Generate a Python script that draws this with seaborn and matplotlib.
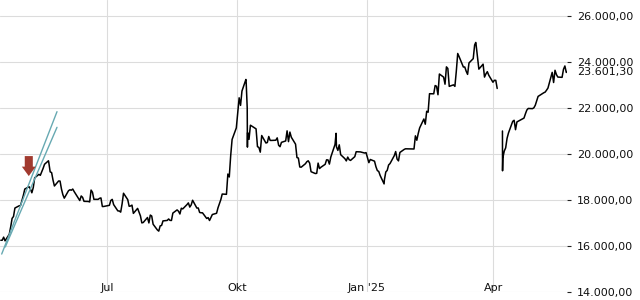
import numpy as np
import pandas as pd
import matplotlib
matplotlib.use("Agg")
import matplotlib.pyplot as plt
import matplotlib.dates as mdates
from matplotlib.ticker import FixedLocator, FixedFormatter, FuncFormatter
import seaborn as sns

# ---------------- data (daily closes) ----------------
holidays = ['2024-05-01', '2024-05-15', '2024-06-10', '2024-07-01', '2024-09-18',
            '2024-10-01', '2024-10-11', '2024-12-25', '2024-12-26', '2025-01-01',
            '2025-01-29', '2025-01-30', '2025-01-31', '2025-04-04', '2025-04-18',
            '2025-04-21', '2025-05-01', '2025-05-05']
first_day = '2024-04-16'
last_day = '2025-05-23'

apr24 = [16249, 16252, 16385, 16224, 16511, 16829, 17201, 17284, 17651, 17747, 17763]
may24 = [18207, 18476, 18578, 18479, 18314, 18538, 18964, 19115, 19073, 19377, 19554,
         19636, 19221, 19195, 18869, 18609, 18828, 18822, 18478, 18231, 18080]
jun24 = [18404, 18445, 18425, 18476, 18367, 17977, 18176, 18113, 17942, 17937, 17916,
         18431, 18336, 18029, 18028, 18072, 18090, 17716, 17719]
jul24 = [17769, 17979, 18028, 17800, 17525, 17523, 17472, 17832, 18294, 18016, 17728,
         17739, 17778, 17418, 17635, 17470, 17311, 17005, 17022, 17238, 17003, 17345]
aug24 = [17304, 16946, 16699, 16647, 16877, 16892, 17091, 17112, 17175, 17114, 17110,
         17431, 17569, 17512, 17392, 17642, 17612, 17799, 17875, 17692, 17787, 17989]
sep24 = [17651, 17652, 17458, 17444, 17444, 17196, 17234, 17109, 17241, 17369, 17423,
         17660, 18013, 18259, 18247, 19129, 19001, 19925, 20632, 21134]
oct24 = [22444, 22114, 22737, 23100, 20927, 20637, 21252, 21093, 20319, 20287, 20080,
         20804, 20478, 20499, 20761, 20591, 20590, 20599, 20701, 20381, 20317]
nov24 = [20506, 20568, 21006, 20538, 20953, 20729, 20427, 19846, 19824, 19436, 19426,
         19577, 19664, 19705, 19602, 19230, 19151, 19159, 19604, 19367, 19424]
dec24 = [19551, 19747, 19742, 19561, 19866, 20415, 20312, 20156, 20398, 19971, 19796,
         19700, 19865, 19753, 19721, 19884, 20099, 20091, 20042, 20060]
jan25 = [19624, 19761, 19688, 19448, 19280, 19241, 19064, 18875, 19219, 19287, 19523,
         19585, 19926, 20107, 19779, 19701, 20067, 20198, 20226]
feb25 = [20218, 20790, 20598, 20892, 21133, 21522, 21295, 21858, 21815, 22621, 22617,
         22977, 22945, 22577, 23478, 23342, 23035, 23788, 23718, 22941]
mar25 = [23006, 22941, 23595, 24370, 24231, 23783, 23782, 23600, 23462, 23959, 24146,
         24740, 24771, 24219, 23690, 23906, 23344, 23483, 23579, 23426, 23120]
apr25 = [23206, 23202, 22849, 19828, 20128, 20265, 20682, 20915, 21418, 21467, 21057,
         21395, 21562, 21745, 21909, 21980, 21972, 22008, 22119]
may25 = [22504, 22662, 22691, 22775, 22868, 23549, 23108, 23640, 23453, 23345, 23333,
         23681, 23828, 23545, 23601.30]

# intraday extremes visible in the chart
extra_times = ['2024-05-20 11:00', '2024-10-07 11:00', '2024-10-08 09:30',
               '2024-10-08 13:00', '2024-12-10 09:30', '2025-01-13 11:00',
               '2025-03-19 11:00', '2025-04-07 09:30', '2025-04-07 11:00']
extra_values = [19706, 23241, 22000, 20300, 20900, 18700, 24850, 21000, 19270]

gap_after = '2025-04-04'      # line is broken over this holiday
last_label = '23.601,30'

# trend channel (two parallel lines) and marker arrow
chan_dates = ['2024-04-17 07:00', '2024-05-26 12:00']
chan_upper = [15650, 21840]
chan_lower_dates = ['2024-04-19 20:00', '2024-05-26 12:00']
chan_lower = [15960, 21160]
arrow_date = '2024-05-06 12:00'
arrow_value = 19040

tick_dates = ['2024-07-01', '2024-10-01', '2025-01-01', '2025-04-01']
tick_labels = ['Jul', 'Okt', "Jan '25", 'Apr']
y_ticks = [14000, 16000, 18000, 20000, 22000, 24000, 26000]

# ---------------- build frame ----------------
closes = (apr24 + may24 + jun24 + jul24 + aug24 + sep24 + oct24 + nov24 + dec24 +
          jan25 + feb25 + mar25 + apr25 + may25)
days = pd.bdate_range(first_day, last_day, freq='C', holidays=holidays)
n = min(len(days), len(closes))
times = list(days[:n] + pd.Timedelta(hours=16)) + list(pd.to_datetime(extra_times))
values = closes[:n] + extra_values
df = pd.DataFrame({'time': times, 'value': values}).sort_values('time').reset_index(drop=True)
df['segment'] = (df['time'] > pd.Timestamp(gap_after)).astype(int)

# ---------------- figure ----------------
sns.set_style('white')
plt.rcParams['font.family'] = ['DejaVu Sans']
fig = plt.figure(figsize=(6.4, 3.0), dpi=100)
ax = fig.add_axes([0, 8 / 300, 567 / 640, 292 / 300])

sns.lineplot(data=df, x='time', y='value', units='segment', estimator=None,
             color='black', lw=1.1, ax=ax, legend=False)

teal = '#67a9b2'
ax.plot(pd.to_datetime(chan_dates), chan_upper, color=teal, lw=1.0, zorder=4)
ax.plot(pd.to_datetime(chan_lower_dates), chan_lower, color=teal, lw=1.0, zorder=4)

ax.annotate('', xy=(pd.Timestamp(arrow_date), arrow_value),
            xytext=(0, 14.4), textcoords='offset points',
            arrowprops=dict(arrowstyle='simple,head_length=0.68,head_width=1.0,tail_width=0.58',
                            mutation_scale=10, fc='#a13a2f', ec='none',
                            shrinkA=0, shrinkB=0), zorder=5)

# axes limits
ax.set_xlim(pd.Timestamp('2024-04-16 02:00'), pd.Timestamp('2025-05-23 04:00'))
ax.set_ylim(14000, 14000 + 292 / 0.023)

# grid + spines
ax.grid(True, color='#dcdcdc', lw=0.8)
ax.set_axisbelow(True)
for s in ax.spines.values():
    s.set_visible(False)

# y axis on right
ax.yaxis.tick_right()
ax.yaxis.set_major_locator(FixedLocator(y_ticks))
def de_fmt(v, pos=None):
    s = f"{v:,.2f}"
    return s.replace(',', 'X').replace('.', ',').replace('X', '.')
ax.yaxis.set_major_formatter(FuncFormatter(de_fmt))
ax.tick_params(axis='y', length=3, width=0.8, color='#222222', pad=4,
               labelsize=8, labelcolor='#111111')

# x axis: month ticks, labels inside above the bottom line
ax.xaxis.set_major_locator(FixedLocator(mdates.date2num(pd.to_datetime(tick_dates))))
ax.xaxis.set_major_formatter(FixedFormatter(tick_labels))
ax.tick_params(axis='x', direction='out', length=3.6, width=0.8, color='#222222',
               pad=-10.4, labelsize=8, labelcolor='#111111')
ax.set_xlabel('')
ax.set_ylabel('')

# last value label (white box, drawn over the neighbouring tick label as in the source)
ax.annotate(last_label, xy=(1, df['value'].iloc[-1]), xycoords=('axes fraction', 'data'),
            xytext=(7.2, -0.5), textcoords='offset points', va='center', ha='left',
            fontsize=8, color='#111111', annotation_clip=False, zorder=10,
            bbox=dict(boxstyle='square,pad=0.1', fc='white', ec='none'))

fig.savefig('out.png', dpi=100)
